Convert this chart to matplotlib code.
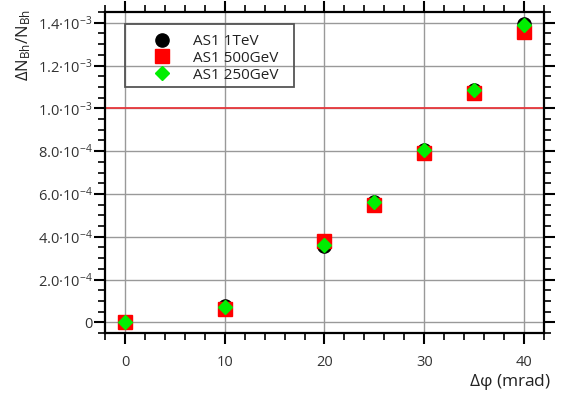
import math
import matplotlib
matplotlib.use("Agg")
import matplotlib.pyplot as plt
from matplotlib.patches import Rectangle
from matplotlib.ticker import MultipleLocator, FuncFormatter

plt.rcParams['font.family'] = ['Open Sans', 'DejaVu Sans']
plt.rcParams['mathtext.fontset'] = 'custom'
plt.rcParams['mathtext.rm'] = 'Open Sans'
plt.rcParams['mathtext.it'] = 'Open Sans'
plt.rcParams['mathtext.bf'] = 'Open Sans'

dphi = [0, 10, 20, 25, 30, 35, 40]
as1_1tev = [0.0, 7.6e-5, 3.58e-4, 5.6e-4, 8.04e-4, 1.087e-3, 1.393e-3]
as1_500gev = [0.0, 6.0e-5, 3.81e-4, 5.48e-4, 7.9e-4, 1.07e-3, 1.357e-3]
as1_250gev = [0.0, 7.3e-5, 3.62e-4, 5.6e-4, 8.05e-4, 1.086e-3, 1.389e-3]
labels = ['AS1 1TeV', 'AS1 500GeV', 'AS1 250GeV']
threshold = 1.0e-3

fig = plt.figure(figsize=(5.62, 4.0), dpi=100)
ax = fig.add_axes([0.1868, 0.1675, 0.7812, 0.8033])

ax.axhline(threshold, color='#e8383d', lw=1.3, zorder=2)
ax.plot(dphi, as1_1tev, 'o', color='black', ms=9.5, label=labels[0], zorder=3)
ax.plot(dphi, as1_500gev, 's', color='#ff0000', ms=9.5, label=labels[1], zorder=4)
ax.plot(dphi, as1_250gev, 'D', color='#00ee00', ms=7.0, label=labels[2], zorder=5)

ax.set_xlim(-2, 42)
ax.set_ylim(-5e-5, 1.4515e-3)
ax.xaxis.set_major_locator(MultipleLocator(10))
ax.xaxis.set_minor_locator(MultipleLocator(2))
ax.yaxis.set_major_locator(MultipleLocator(2e-4))
ax.yaxis.set_minor_locator(MultipleLocator(5e-5))

def yfmt(v, pos):
    if abs(v) < 1e-12:
        return '0'
    e = int(math.floor(math.log10(abs(v)) + 1e-9))
    m = v / 10**e
    return f'{m:.1f}·10$^{{-{abs(e)}}}$'

ax.yaxis.set_major_formatter(FuncFormatter(yfmt))

ax.grid(True, which='major', color='#999999', lw=1.0, zorder=0)
ax.set_axisbelow(True)
ax.tick_params(which='both', direction='out', top=True, right=True,
               labeltop=False, labelright=False, color='black',
               labelcolor='#333333', labelsize=10.5)
ax.tick_params(which='major', length=8, width=1.5)
ax.tick_params(which='minor', length=5, width=1.2)
ax.tick_params(axis='x', which='major', pad=8)
ax.tick_params(axis='y', which='major', pad=1)
for s in ax.spines.values():
    s.set_linewidth(1.6)
    s.set_color('black')

ax.set_ylabel(r'$\Delta$N$_{\mathrm{Bh}}$/N$_{\mathrm{Bh}}$', fontsize=12, color='#222222')
ax.yaxis.set_label_coords(-0.164, 0.896)
ax.set_xlabel(r'$\Delta\varphi$ (mrad)', fontsize=12.5, color='#222222')
ax.xaxis.set_label_coords(1.016, -0.12)
ax.xaxis.label.set_horizontalalignment('right')

# legend frame
ax.add_patch(Rectangle((0.0456, 0.7656), 0.3849, 0.1961, transform=ax.transAxes,
                       fill=False, edgecolor='#555555', lw=1.3, zorder=6))
leg = ax.legend(loc='upper left', bbox_to_anchor=(0.1116, 0.931), frameon=False,
                fontsize=11, handletextpad=1.55, borderpad=0,
                labelspacing=0.12, handlelength=1.0, borderaxespad=0)
for t in leg.get_texts():
    t.set_color('#222222')

fig.savefig('out.png', dpi=100)
